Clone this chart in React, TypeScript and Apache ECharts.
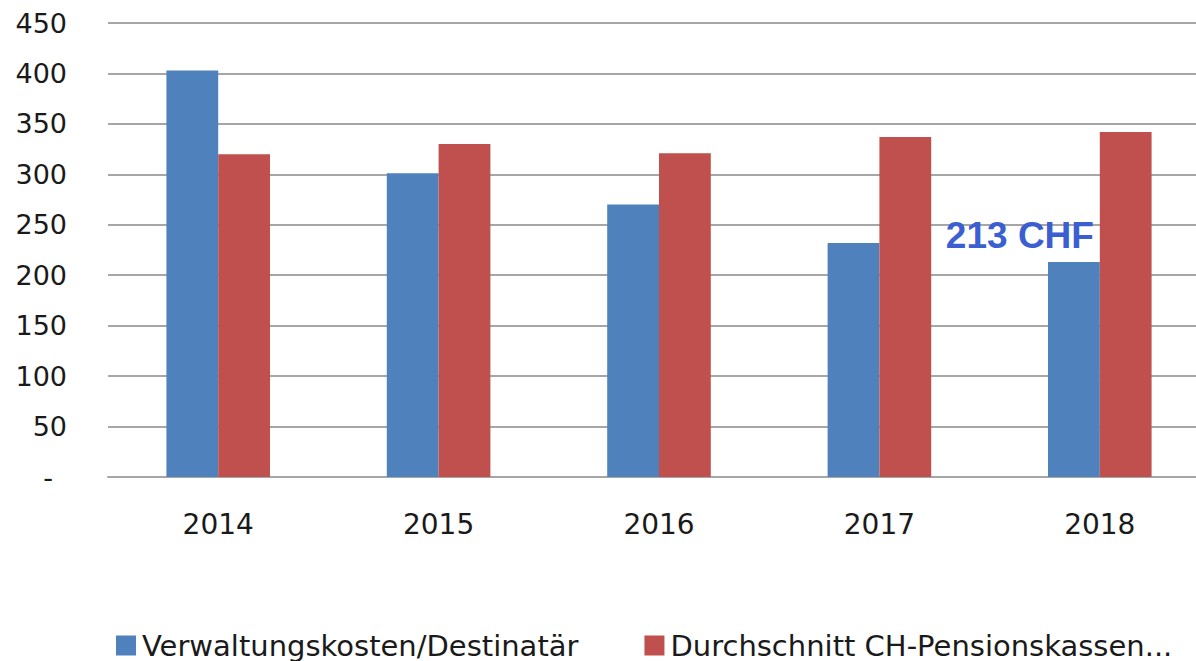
import React, { useEffect, useRef } from "react";
import * as echarts from "echarts";

const categories = ["2014", "2015", "2016", "2017", "2018"];
const verwaltungskosten = [403, 301, 270, 232, 213];
const durchschnitt = [320, 330, 321, 337, 342];
const seriesNames = ["Verwaltungskosten/Destinatär", "Durchschnitt CH-Pensionskassen..."];
const annotatedIndex = 4;

export default function App() {
  const ref = useRef<HTMLDivElement>(null);
  useEffect(() => {
    document.body.style.margin = "0";
    const chart = echarts.init(ref.current!, null, { renderer: "svg" });
    const gridColor = "#a6a6a6";
    chart.setOption({
      animation: false,
      backgroundColor: "#ffffff",
      grid: { left: 108, width: 1102, top: 23, height: 454, containLabel: false, outerBoundsMode: "none" },
      legend: {
        left: 111,
        top: 626,
        itemWidth: 20,
        itemHeight: 20,
        itemGap: 66,
        icon: "rect",
        textStyle: { fontFamily: "DejaVu Sans", fontSize: 29, color: "#1a1a1a", padding: [0, 0, 0, 1] },
        data: seriesNames,
      },
      xAxis: {
        type: "category",
        data: categories,
        axisLine: { show: true, lineStyle: { color: gridColor, width: 2 } },
        axisTick: { show: false },
        axisLabel: { fontFamily: "DejaVu Sans", fontSize: 28, color: "#1a1a1a", margin: 33 },
      },
      yAxis: {
        type: "value",
        min: 0,
        max: 450,
        interval: 50,
        axisLine: { show: false },
        axisTick: { show: false },
        splitLine: { lineStyle: { color: gridColor, width: 2 } },
        axisLabel: {
          fontFamily: "DejaVu Sans",
          fontSize: 27,
          color: "#1a1a1a",
          margin: 41,
          formatter: (v: number) => (v === 0 ? "{d|-}" : String(v)),
          rich: { d: { fontFamily: "DejaVu Sans", fontSize: 27, color: "#1a1a1a", padding: [0, 14, 0, 0] } },
        },
      },
      series: [
        {
          name: seriesNames[0],
          type: "bar",
          barGap: "0%",
          barCategoryGap: "53%",
          itemStyle: { color: "#4F81BD" },
          data: verwaltungskosten.map((v, i) =>
            i === annotatedIndex
              ? {
                  value: v,
                  label: {
                    show: true,
                    position: "top",
                    distance: 8,
                    offset: [-54, 0],
                    formatter: (p: any) => `${p.value} CHF`,
                    fontFamily: "Liberation Sans",
                    fontWeight: "bold",
                    fontSize: 37,
                    color: "#3B5FD0",
                  },
                }
              : v
          ),
        },
        {
          name: seriesNames[1],
          type: "bar",
          barGap: "0%",
          barCategoryGap: "53%",
          itemStyle: { color: "#C0504D" },
          data: durchschnitt,
        },
      ],
    });
    return () => chart.dispose();
  }, []);
  return <div ref={ref} style={{ width: 1196, height: 661, position: "absolute", left: 0, top: 0 }} />;
}
